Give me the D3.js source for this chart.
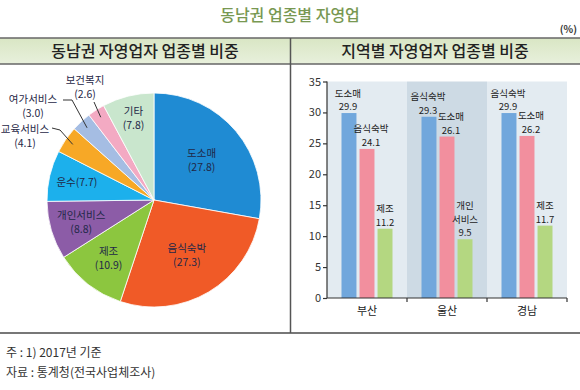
<!DOCTYPE html>
<html>
<head>
<meta charset="utf-8">
<title>동남권 업종별 자영업</title>
<script src="https://cdn.jsdelivr.net/npm/d3@7"></script>
<style>
  html, body {margin: 0; padding: 0; background: #fff;}
  body {font-family: "Noto Sans CJK KR", "Noto Sans", sans-serif;}
  svg {display: block;}
</style>
</head>
<body>
<div id="chart"></div>
<script>
// pie data (동남권 자영업자 업종별 비중)
var pieCats = ["도소매", "음식숙박", "제조", "개인서비스", "운수", "교육서비스", "여가서비스", "보건복지", "기타"];
var pieValues = [27.8, 27.3, 10.9, 8.8, 7.7, 4.1, 3.0, 2.6, 7.8];
var pieColors = ["#1f8bd3", "#f05a27", "#8cc63f", "#8c5ca7", "#1cb0ec", "#f7a826", "#a5bde3", "#f3aac3", "#c9e6cd"];

// bar data (지역별 자영업자 업종별 비중), top three per region
var regions = ["부산", "울산", "경남"];
var busanCats = ["도소매", "음식숙박", "제조"];
var busanValues = [29.9, 24.1, 11.2];
var ulsanCats = ["음식숙박", "도소매", "개인\n서비스"];
var ulsanValues = [29.3, 26.1, 9.5];
var gyeongnamCats = ["음식숙박", "도소매", "제조"];
var gyeongnamValues = [29.9, 26.2, 11.7];
var rankColors = ["#71a7dc", "#f28f9e", "#b4d781"];
var yTicks = [0, 5, 10, 15, 20, 25, 30, 35];

var W = 580, H = 390;
var svg = d3.select("#chart").append("svg").attr("width", W).attr("height", H);

// title
svg.append("text").attr("x", 290).attr("y", 21).attr("text-anchor", "middle")
  .attr("font-size", "16px").attr("font-weight", 500).attr("fill", "#789852").text("동남권 업종별 자영업");
svg.append("text").attr("x", 577).attr("y", 33).attr("text-anchor", "end")
  .attr("font-size", "10px").attr("font-weight", "bold").attr("fill", "#333").text("(%)");

// header band
var grad = svg.append("defs").append("linearGradient").attr("id", "band")
  .attr("x1", 0).attr("x2", 0).attr("y1", 0).attr("y2", 1);
grad.append("stop").attr("offset", "0%").attr("stop-color", "#d9e6c4");
grad.append("stop").attr("offset", "100%").attr("stop-color", "#e8f0dc");
svg.append("rect").attr("x", 0).attr("y", 38).attr("width", W).attr("height", 26).attr("fill", "url(#band)");
svg.append("line").attr("x1", 0).attr("x2", W).attr("y1", 38).attr("y2", 38).attr("stroke", "#666").attr("stroke-width", 1.5);
svg.append("line").attr("x1", 0).attr("x2", W).attr("y1", 64).attr("y2", 64).attr("stroke", "#666").attr("stroke-width", 1.5);
svg.append("line").attr("x1", 0).attr("x2", W).attr("y1", 333).attr("y2", 333).attr("stroke", "#777").attr("stroke-width", 2);
svg.append("line").attr("x1", 290.5).attr("x2", 290.5).attr("y1", 38).attr("y2", 333).attr("stroke", "#555").attr("stroke-width", 1.5);

svg.append("text").attr("x", 145).attr("y", 57).attr("text-anchor", "middle")
  .attr("font-size", "16px").attr("font-weight", 500).attr("fill", "#222").text("동남권 자영업자 업종별 비중");
svg.append("text").attr("x", 435).attr("y", 57).attr("text-anchor", "middle")
  .attr("font-size", "16px").attr("font-weight", 500).attr("fill", "#222").text("지역별 자영업자 업종별 비중");

// ---------- pie ----------
var cx = 154, cy = 200, R = 107;
var pie = d3.pie().sort(null).value(function(d) {return d;});
var arcs = pie(pieValues);
var arc = d3.arc().innerRadius(0).outerRadius(R);
var g = svg.append("g").attr("transform", "translate(" + cx + "," + cy + ")");

g.selectAll("path").data(arcs).enter().append("path")
  .attr("d", arc)
  .attr("fill", function(d, i) {return pieColors[i];})
  .attr("stroke", "#fff").attr("stroke-width", 0.8);

// label radius as a share of R (inside labels), null = outside label
var labelR = [0.58, 0.6, 0.69, 0.71, 0.74, null, null, null, 0.79];
var labelColor = "#1f2847";
var pieFont = "10.5px", pieGap = 14;

arcs.forEach(function(d, i) {
  if (labelR[i] === null) return;
  var c = d3.arc().innerRadius(R * labelR[i]).outerRadius(R * labelR[i]).centroid(d);
  if (pieCats[i] === "운수") {
    g.append("text").attr("text-anchor", "middle").attr("font-size", pieFont).attr("fill", labelColor)
      .attr("x", c[0]).attr("y", c[1] + 4).text(pieCats[i] + "(" + pieValues[i].toFixed(1) + ")");
  } else {
    g.append("text").attr("text-anchor", "middle").attr("font-size", pieFont).attr("fill", labelColor)
      .attr("x", c[0]).attr("y", c[1] - 3).text(pieCats[i]);
    g.append("text").attr("text-anchor", "middle").attr("font-size", pieFont).attr("fill", labelColor)
      .attr("x", c[0]).attr("y", c[1] - 3 + pieGap).text("(" + pieValues[i].toFixed(1) + ")");
  }
});

// outside labels with leader lines (offsets from pie centre)
var outer = {
  5: {elbow: [-94, -70], end: [-102, -72], text: [-129, -67]},
  6: {elbow: [-82, -100], end: [-91, -100], text: [-121, -97]},
  7: {elbow: [-60, -98], end: [-60, -98], text: [-69, -116]}
};
Object.keys(outer).forEach(function(k) {
  var i = +k, o = outer[k], d = arcs[i];
  var s = d3.arc().innerRadius(R * 0.92).outerRadius(R * 0.92).centroid(d);
  g.append("polyline")
    .attr("points", [s, o.elbow, o.end].map(function(p) {return p.join(",");}).join(" "))
    .attr("fill", "none").attr("stroke", "#333").attr("stroke-width", 1);
  g.append("text").attr("text-anchor", "middle").attr("font-size", pieFont).attr("fill", labelColor)
    .attr("x", o.text[0]).attr("y", o.text[1]).text(pieCats[i]);
  g.append("text").attr("text-anchor", "middle").attr("font-size", pieFont).attr("fill", labelColor)
    .attr("x", o.text[0]).attr("y", o.text[1] + pieGap).text("(" + pieValues[i].toFixed(1) + ")");
});

// ---------- bars ----------
var groups = [
  {region: regions[0], cats: busanCats, values: busanValues},
  {region: regions[1], cats: ulsanCats, values: ulsanValues},
  {region: regions[2], cats: gyeongnamCats, values: gyeongnamValues}
];

var x0 = d3.scaleBand().domain(regions).range([327, 567]);
var x1 = d3.scaleBand().domain([0, 1, 2]).range([14.5, 65.5]).paddingInner(0.17);
var y = d3.scaleLinear().domain([0, 35]).range([298, 81.5]);

var b = svg.append("g");
b.selectAll("rect.bg").data(regions).enter().append("rect")
  .attr("class", "bg")
  .attr("x", function(d) {return x0(d);})
  .attr("y", y(35))
  .attr("width", x0.bandwidth())
  .attr("height", y(0) - y(35))
  .attr("fill", function(d, i) {return i === 1 ? "#cddae4" : "#e3ebf1";});

var barFont = "9.5px", barGap = 13.5;
// small sideways nudge of the second label so it clears the first bar's value
var labelShift = [-1, 4, 0];

groups.forEach(function(grp) {
  var gg = b.append("g").attr("transform", "translate(" + x0(grp.region) + ",0)");
  grp.values.forEach(function(v, i) {
    gg.append("rect")
      .attr("x", x1(i)).attr("y", y(v))
      .attr("width", x1.bandwidth()).attr("height", y(0) - y(v))
      .attr("fill", rankColors[i]);
  });
  grp.values.forEach(function(v, i) {
    var lines = grp.cats[i].split("\n").concat([v.toFixed(1)]);
    var cxb = x1(i) + x1.bandwidth() / 2 + labelShift[i];
    lines.forEach(function(l, j) {
      gg.append("text").attr("text-anchor", "middle").attr("font-size", barFont).attr("fill", "#222")
        .attr("x", cxb).attr("y", y(v) - 3 - (lines.length - 1 - j) * barGap).text(l);
    });
  });
});

// axes
var yAxis = d3.axisLeft(y).tickValues(yTicks).tickSize(4).tickPadding(2);
var ya = svg.append("g").attr("transform", "translate(327,0)").call(yAxis);
ya.select(".domain").attr("stroke", "#333").attr("stroke-width", 1.2).attr("d", "M0," + y(0) + "V" + y(35));
ya.selectAll(".tick line").attr("stroke", "#333").attr("stroke-width", 1.2);
ya.selectAll(".tick text").attr("font-size", "11px").attr("fill", "#333")
  .attr("font-family", "\"Noto Sans CJK KR\", sans-serif");

var xAxis = d3.axisBottom(x0).tickSize(0).tickPadding(9);
var xa = svg.append("g").attr("transform", "translate(0," + y(0) + ")").call(xAxis);
xa.select(".domain").attr("stroke", "#333").attr("stroke-width", 1.2).attr("d", "M327,0H567");
xa.selectAll(".tick text").attr("font-size", "11px").attr("fill", "#222")
  .attr("font-family", "\"Noto Sans CJK KR\", sans-serif");
// separators between regions
xa.selectAll("line.sep").data(regions).enter().append("line").attr("class", "sep")
  .attr("x1", function(d) {return x0(d) + x0.bandwidth();})
  .attr("x2", function(d) {return x0(d) + x0.bandwidth();})
  .attr("y1", 0).attr("y2", 4)
  .attr("stroke", "#333").attr("stroke-width", 1.2);

// footnotes
svg.append("text").attr("x", 6).attr("y", 357).attr("font-size", "12px").attr("fill", "#333").text("주 : 1) 2017년 기준");
svg.append("text").attr("x", 6).attr("y", 377).attr("font-size", "12px").attr("fill", "#333").text("자료 : 통계청(전국사업체조사)");
</script>
</body>
</html>
